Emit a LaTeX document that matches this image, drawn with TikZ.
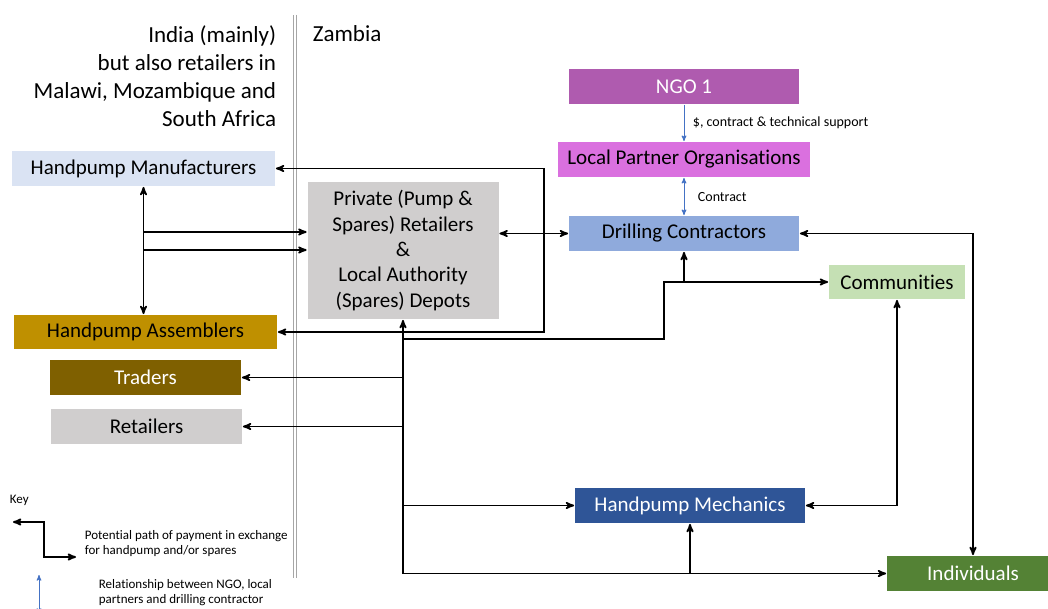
\documentclass[tikz,border=0pt]{standalone}
\usepackage{fontspec}
\setmainfont[Ligatures=NoCommon]{Carlito}
\usetikzlibrary{arrows}
\definecolor{c_manu}{HTML}{DAE3F3}
\definecolor{c_asm}{HTML}{BF9000}
\definecolor{c_trad}{HTML}{7F6000}
\definecolor{c_grey}{HTML}{D0CECE}
\definecolor{c_ngo}{HTML}{AF5BAF}
\definecolor{c_lpo}{HTML}{DA70DF}
\definecolor{c_dc}{HTML}{8FAADC}
\definecolor{c_comm}{HTML}{C5E0B4}
\definecolor{c_mech}{HTML}{2F5597}
\definecolor{c_ind}{HTML}{548235}
\definecolor{c_link}{HTML}{4472C4}
\tikzset{
	box/.style = {
		rectangle,
		inner sep=0pt,
		align=center,
		text centered,
		font=\fontsize{21}{25.3}\selectfont,
		minimum height=35pt
	},
	node_manu/.style = {
		box,
		fill=c_manu,
		minimum width=263pt
	},
	node_asm/.style = {
		box,
		fill=c_asm,
		minimum width=263pt,
		minimum height=34pt
	},
	node_trad/.style = {
		box,
		fill=c_trad,
		text=white,
		minimum width=191pt
	},
	node_rtl/.style = {
		box,
		fill=c_grey,
		minimum width=191pt
	},
	node_depot/.style = {
		box,
		fill=c_grey,
		minimum width=191pt,
		minimum height=137pt
	},
	node_ngo/.style = {
		box,
		fill=c_ngo,
		text=white,
		minimum width=230pt
	},
	node_lpo/.style = {
		box,
		fill=c_lpo,
		minimum width=252pt
	},
	node_dc/.style = {
		box,
		fill=c_dc,
		minimum width=230pt
	},
	node_comm/.style = {
		box,
		fill=c_comm,
		minimum width=136pt,
		minimum height=34pt
	},
	node_mech/.style = {
		box,
		fill=c_mech,
		text=white,
		minimum width=230pt
	},
	node_ind/.style = {
		box,
		fill=c_ind,
		text=white,
		minimum width=172pt
	},
	head/.style = {
		inner sep=0pt,
		font=\fontsize{23}{28}\selectfont
	},
	lbl/.style = {
		inner sep=0pt,
		anchor=west,
		font=\fontsize{14}{16}\selectfont
	},
	keytext/.style = {
		inner sep=0pt,
		anchor=west,
		align=left,
		font=\fontsize{13}{15}\selectfont
	},
	blue_link/.style = {
		c_link,
		line width=1pt
	},
	divider/.style = {
		-,
		draw=gray!70,
		line width=1.1pt,
		double=white,
		double distance=1.6pt
	},
}

\begin{document}
\begin{tikzpicture}[->,>=stealth',x=1pt,y=-1pt,line width=1.8pt]
\useasboundingbox[fill=white] (0,0) rectangle (1048,609);

% headings
\draw[divider] (295,15) -- (295,578);
\node[head, align=right, anchor=east] (india) at (277,76) {India (mainly)\\but also retailers in\\Malawi, Mozambique and\\South Africa};
\node[head, anchor=west] (zambia) at (312,34) {Zambia};

% boxes
\node[node_manu] (manu) at (143.5,168.5) {Handpump Manufacturers};
\node[node_asm] (asm) at (145.5,332) {Handpump Assemblers};
\node[node_trad] (trad) at (145.5,377.5) {Traders};
\node[node_rtl] (rtl) at (146.5,426.5) {Retailers};
\node[node_depot] (depot) at (403,250.5) {Private (Pump \&\\Spares) Retailers\\\&\\Local Authority\\(Spares) Depots};
\node[node_ngo] (ngo) at (684,86.5) {NGO 1};
\node[node_lpo] (lpo) at (684,159.5) {Local Partner Organisations};
\node[node_dc] (dc) at (684,233.5) {Drilling Contractors};
\node[node_comm] (comm) at (897,282) {Communities};
\node[node_mech] (mech) at (690,505.5) {Handpump Mechanics};
\node[node_ind] (ind) at (973,573.5) {Individuals};

% NGO chain
\draw[blue_link] (ngo.south) -- (lpo.north);
\draw[blue_link, <->] (lpo.south) -- (dc.north);
\node[lbl] (lbl_fund) at (692,123) {\$, contract \& technical support};
\node[lbl] (lbl_contract) at (697,197) {Contract};

% payments, left side
\draw[<->] (manu.south) -- (manu.south |- asm.north);
\coordinate (m1) at (143.5,232);
\coordinate (m2) at (143.5,250);
\draw (m1) -- (m1 -| depot.west);
\draw (m2) -- (m2 -| depot.west);
\draw[<->] (depot.east |- dc.west) -- (dc.west);
\coordinate (dsplit) at (544,233.5);
\draw (dsplit) |- (manu.east);
\draw (dsplit) |- (asm.east);

% payments, trunk below depots
\draw (depot.south |- ind.west) -- (depot.south);
\draw (depot.south |- trad.east) -- (trad.east);
\draw (depot.south |- rtl.east) -- (rtl.east);
\draw (depot.south |- mech.west) -- (mech.west);
\draw (depot.south |- ind.west) -- (ind.west);
\draw (mech.south |- ind.west) -- (mech.south);
\coordinate (c1) at (403,339);
\coordinate (c2) at (664,282);
\draw (c1) -| (c2) -- (comm.west);
\draw (dc.south |- comm.west) -- (dc.south);

% payments, right side
\draw[<->] (dc.east) -| (ind.north);
\draw[<->] (comm.south) |- (mech.east);

% key
\node[keytext] (key) at (9,500) {Key};
\coordinate (key_a) at (13,522);
\coordinate (key_b) at (76,557);
\draw[<->] (key_a) -- (44,522) |- (key_b);
\node[keytext] (key_pay) at (84,543.5) {Potential path of payment in exchange\\for handpump and/or spares};
\coordinate (key_c) at (39,575);
\coordinate (key_d) at (39,614);
\draw[blue_link, <->] (key_c) -- (key_d);
\node[keytext] (key_rel) at (98,592.5) {Relationship between NGO, local\\partners and drilling contractor};
\end{tikzpicture}
\end{document}
